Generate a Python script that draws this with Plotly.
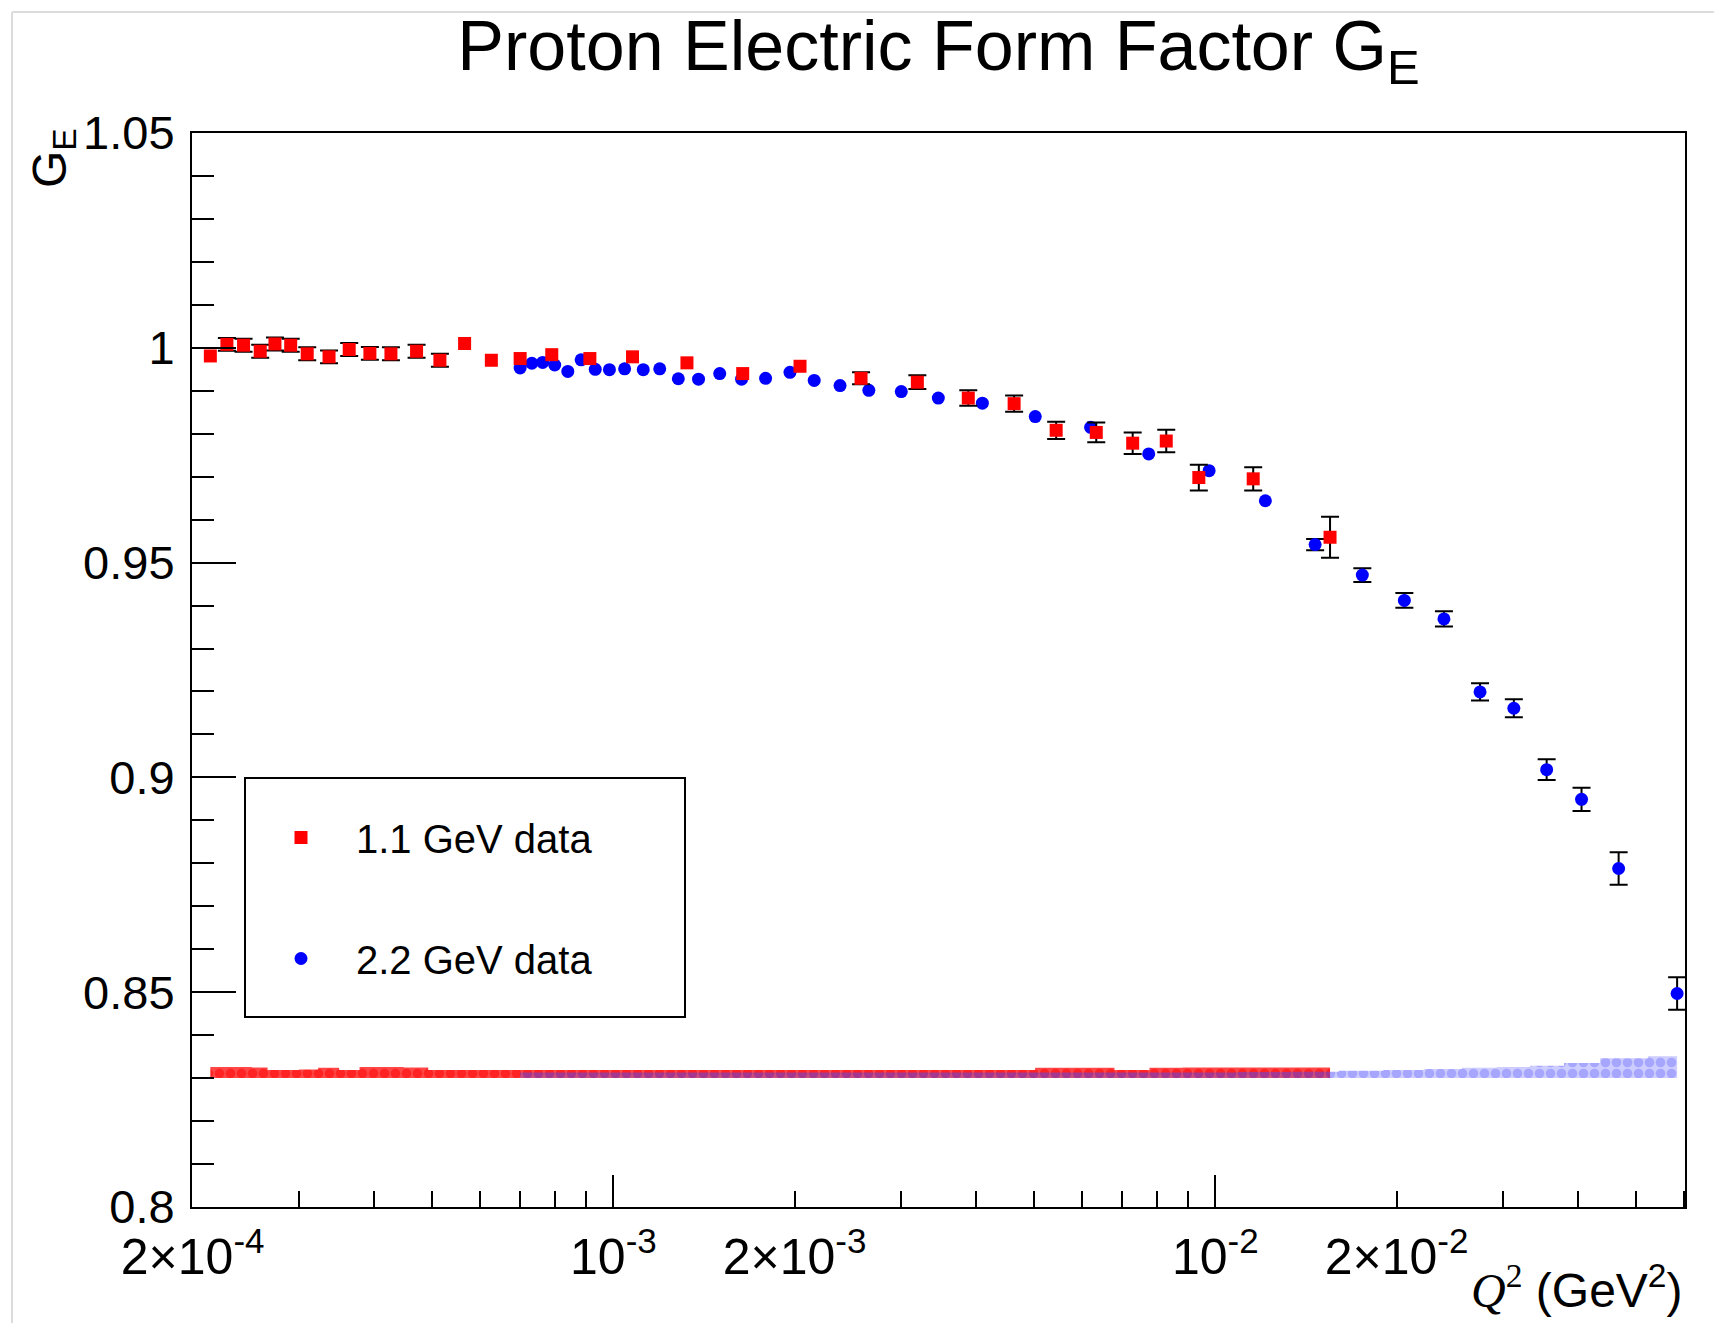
import math
import plotly.graph_objects as go

# ---- 1.1 GeV beam ----
red_q2 = [2.14e-4, 2.28e-4, 2.43e-4, 2.59e-4, 2.74e-4, 2.91e-4, 3.10e-4, 3.37e-4,
          3.64e-4, 3.94e-4, 4.27e-4, 4.71e-4, 5.15e-4, 5.66e-4, 6.27e-4, 7.00e-4,
          7.90e-4, 9.14e-4, 1.076e-3, 1.325e-3, 1.640e-3, 2.042e-3, 2.579e-3,
          3.199e-3, 3.887e-3, 4.632e-3, 5.440e-3, 6.342e-3, 7.290e-3, 8.289e-3,
          9.389e-3, 1.156e-2, 1.551e-2]
red_ge = [0.9981, 1.0008, 1.0006, 0.9992, 1.0009, 1.0006, 0.9986, 0.9979,
          0.9996, 0.9987, 0.9986, 0.9992, 0.9971, 1.0010, 0.9971, 0.9975,
          0.9984, 0.9975, 0.9979, 0.9965, 0.9940, 0.9957, 0.9929,
          0.9920, 0.9883, 0.9870, 0.9808, 0.9803, 0.9778, 0.9783,
          0.9698, 0.9695, 0.9559]
# statistical errors (0 = bar hidden inside the marker)
red_err = [0.0, 0.0015, 0.0015, 0.0015, 0.0015, 0.0015, 0.0015, 0.0015,
           0.0015, 0.0015, 0.0015, 0.0015, 0.0015, 0.0, 0.0, 0.0,
           0.0, 0.0, 0.0, 0.0, 0.0, 0.0, 0.0014,
           0.0016, 0.0018, 0.0019, 0.0020, 0.0023, 0.0025, 0.0026,
           0.0030, 0.0027, 0.0048]
# systematic uncertainties (drawn as a band)
red_sys = [0.0026, 0.0026, 0.0026, 0.0025, 0.0019, 0.0019, 0.0020, 0.0024,
           0.0019, 0.0026, 0.0026, 0.0025, 0.0019, 0.0019, 0.0019, 0.0019,
           0.0019, 0.0019, 0.0019, 0.0019, 0.0019, 0.0019, 0.0019,
           0.0019, 0.0019, 0.0019, 0.0024, 0.0024, 0.0019, 0.0024,
           0.0025, 0.0025, 0.0025]

# ---- 2.2 GeV beam ----
blue_q2 = [7.00e-4, 7.32e-4, 7.63e-4, 7.99e-4, 8.40e-4, 8.84e-4, 9.33e-4, 9.85e-4,
           1.044e-3, 1.121e-3, 1.194e-3, 1.282e-3, 1.385e-3, 1.502e-3, 1.633e-3,
           1.790e-3, 1.965e-3, 2.156e-3, 2.380e-3, 2.657e-3, 3.008e-3, 3.466e-3,
           4.102e-3, 5.022e-3, 6.207e-3, 7.751e-3, 9.765e-3, 1.211e-2, 1.465e-2,
           1.755e-2, 2.061e-2, 2.398e-2, 2.753e-2, 3.133e-2, 3.552e-2, 4.059e-2,
           4.678e-2, 5.851e-2]
blue_ge = [0.9953, 0.9964, 0.9966, 0.9960, 0.9945, 0.9972, 0.9950, 0.9949,
           0.9951, 0.9949, 0.9951, 0.9928, 0.9927, 0.9940, 0.9927,
           0.9929, 0.9943, 0.9924, 0.9912, 0.9901, 0.9898, 0.9883,
           0.9871, 0.9840, 0.9815, 0.9753, 0.9714, 0.9644, 0.9542,
           0.9471, 0.9412, 0.9369, 0.9199, 0.9161, 0.9018, 0.8949,
           0.8788, 0.8497]
blue_err = [0.0] * 28 + [0.0013, 0.0016, 0.0017, 0.0018, 0.0020, 0.0021,
                         0.0024, 0.0027, 0.0038, 0.0038]
blue_sys = [0.0013] * 27 + [0.0014, 0.0015, 0.0017, 0.0019, 0.0021, 0.0024,
                            0.0026, 0.0029, 0.0035, 0.0046, 0.0051]

band_base = 0.83

y_ticks = [0.8, 0.85, 0.9, 0.95, 1.0, 1.05]
y_ticktext = ["0.8", "0.85", "0.9", "0.95", "1", "1.05"]
x_labels = [2e-4, 1e-3, 2e-3, 1e-2, 2e-2]
x_labeltext = ["2\u00d710<sup>-4</sup>", "10<sup>-3</sup>", "2\u00d710<sup>-3</sup>",
               "10<sup>-2</sup>", "2\u00d710<sup>-2</sup>"]
x_decades = [1e-3, 1e-2]

FONT = "Liberation Sans, Arial, sans-serif"
x_range = [math.log10(1.995e-4), math.log10(0.0603)]


def band(q2, sys):
    xs = list(q2) + list(q2)[::-1]
    ys = [band_base + s for s in sys] + [band_base] * len(q2)
    return xs, ys


def subset(q2, ge, err):
    keep = [i for i, e in enumerate(err) if e > 0]
    return [q2[i] for i in keep], [ge[i] for i in keep], [err[i] for i in keep]


fig = go.Figure()

# systematic bands
rx, ry = band(red_q2, red_sys)
fig.add_trace(go.Scatter(
    x=rx, y=ry, mode="lines", fill="toself", line=dict(width=0, shape="hvh"),
    fillcolor="rgba(255,0,0,0.75)",
    fillpattern=dict(shape=".", fgcolor="rgb(255,0,0)", bgcolor="rgba(255,0,0,0.72)",
                     size=11, solidity=0.6, fillmode="overlay"),
    showlegend=False, hoverinfo="skip"))
bx, by = band(blue_q2, blue_sys)
fig.add_trace(go.Scatter(
    x=bx, y=by, mode="lines", fill="toself", line=dict(width=0, shape="hvh"),
    fillcolor="rgba(80,80,255,0.3)",
    fillpattern=dict(shape=".", fgcolor="rgba(60,60,255,0.55)", bgcolor="rgba(90,90,255,0.3)",
                     size=11, solidity=0.6, fillmode="overlay"),
    xaxis="x2", showlegend=False, hoverinfo="skip"))

ERR = dict(type="data", symmetric=True, color="black", thickness=2, width=9)

# 2.2 GeV points
ex, ey, ee = subset(blue_q2, blue_ge, blue_err)
fig.add_trace(go.Scatter(
    x=ex, y=ey, mode="markers", marker=dict(size=1, opacity=0),
    error_y=dict(array=ee, **ERR), showlegend=False, hoverinfo="skip"))
fig.add_trace(go.Scatter(
    x=blue_q2, y=blue_ge, mode="markers", name="2.2 GeV data",
    marker=dict(symbol="circle", size=13, color="rgb(0,0,255)", line=dict(width=0)),
    legendgroup="b", legendrank=2))

# 1.1 GeV points
ex, ey, ee = subset(red_q2, red_ge, red_err)
fig.add_trace(go.Scatter(
    x=ex, y=ey, mode="markers", marker=dict(size=1, opacity=0),
    error_y=dict(array=ee, **ERR), showlegend=False, hoverinfo="skip"))
fig.add_trace(go.Scatter(
    x=red_q2, y=red_ge, mode="markers", name="1.1 GeV data",
    marker=dict(symbol="square", size=13, color="rgb(255,0,0)", line=dict(width=0)),
    legendgroup="a", legendrank=1))

W, H = 1714, 1323
L, R, T, B = 192, 29, 133, 116
PW, PH = W - L - R, H - T - B


def px_x(p):
    return (p - L) / PW


def px_y(p):
    return (H - B - p) / PH


minor_x = [m * 10.0 ** e for e in (-4, -3, -2) for m in range(3, 10)
           if 1.995e-4 < m * 10.0 ** e < 0.0603]

fig.update_layout(
    width=W, height=H, autosize=False,
    margin=dict(l=L, r=R, t=T, b=B, pad=0),
    paper_bgcolor="white", plot_bgcolor="white",
    font=dict(family=FONT, color="black"),
    title=dict(text="Proton Electric Form Factor G<sub>E</sub>",
               font=dict(family=FONT, size=70, color="black"),
               x=0.5, xref="paper", xanchor="center",
               y=1 - 45 / H, yref="container", yanchor="middle"),
    xaxis=dict(type="log", range=x_range, showgrid=False, zeroline=False,
               showline=True, mirror=True, linecolor="black", linewidth=2,
               ticks="inside", tickmode="array", tickvals=x_labels, ticktext=x_labeltext,
               ticklen=16, tickwidth=2, tickcolor="black",
               tickfont=dict(family=FONT, size=50, color="black"),
               ticklabelstandoff=5,
               minor=dict(tickmode="array", tickvals=minor_x, ticks="inside",
                          ticklen=16, tickwidth=2, tickcolor="black", showgrid=False),
               automargin=False),
    xaxis2=dict(type="log", range=x_range, overlaying="x", anchor="y", side="bottom",
                showgrid=False, zeroline=False, showline=False,
                ticks="inside", tickmode="array", tickvals=x_decades,
                ticklen=32, tickwidth=2, tickcolor="black",
                showticklabels=False, automargin=False),
    yaxis=dict(range=[0.8, 1.05], showgrid=False, zeroline=False,
               showline=True, mirror=True, linecolor="black", linewidth=2,
               ticks="inside", tickmode="array", tickvals=y_ticks, ticktext=y_ticktext,
               ticklen=44, tickwidth=2, tickcolor="black",
               tickfont=dict(family=FONT, size=47, color="black"),
               ticklabelstandoff=6,
               minor=dict(dtick=0.01, tick0=0.8, ticks="inside", ticklen=22,
                          tickwidth=2, tickcolor="black", showgrid=False),
               automargin=False),
    showlegend=True,
    legend=dict(x=px_x(246), y=px_y(805), xanchor="left", yanchor="top",
                bgcolor="rgba(0,0,0,0)", borderwidth=0,
                font=dict(family=FONT, size=40, color="black"),
                itemwidth=100, tracegroupgap=66, traceorder="grouped"),
    shapes=[
        # legend frame
        dict(type="rect", xref="paper", yref="paper",
             x0=px_x(245), x1=px_x(685), y0=px_y(1017), y1=px_y(778),
             line=dict(color="black", width=2), fillcolor="rgba(0,0,0,0)", layer="above"),
        # canvas border
        dict(type="line", xref="paper", yref="paper",
             x0=px_x(12), x1=px_x(W), y0=px_y(12), y1=px_y(12),
             line=dict(color="#dcdcdc", width=2)),
        dict(type="line", xref="paper", yref="paper",
             x0=px_x(12), x1=px_x(12), y0=px_y(12), y1=px_y(H),
             line=dict(color="#dcdcdc", width=2)),
    ],
    annotations=[
        dict(text="G<sub>E</sub>", textangle=-90, xref="paper", yref="paper",
             x=px_x(53), y=px_y(158), xanchor="center", yanchor="middle",
             showarrow=False, font=dict(family=FONT, size=48, color="black")),
        dict(text="<span style=\"font-family:'Liberation Serif'\"><i>Q</i><sup>2</sup></span>"
                  " (GeV<sup>2</sup>)",
             xref="paper", yref="paper", x=1.0, y=px_y(1287),
             xanchor="right", yanchor="middle", showarrow=False,
             font=dict(family=FONT, size=48, color="black")),
    ],
)

fig.write_html("out.html")
